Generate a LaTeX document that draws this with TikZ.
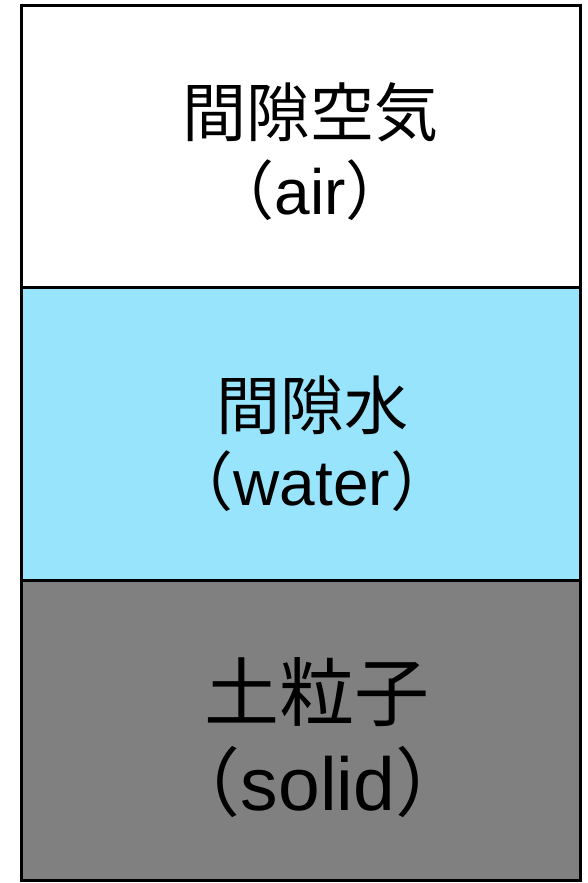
\documentclass[tikz,border=0pt]{standalone}
\usepackage{fontspec}
\setmainfont{Liberation Sans}
\newfontfamily\cjk{Noto Sans CJK JP}
\definecolor{waterblue}{HTML}{99E4FD}
\definecolor{soilgray}{HTML}{808080}
\begin{document}
\begin{tikzpicture}[x=1pt,y=-1pt,
  layer/.style={draw=black,line width=3pt},
  lbl/.style={inner sep=0pt,anchor=center,font=\fontsize{64}{64}\selectfont},
  biglbl/.style={inner sep=0pt,anchor=center,font=\fontsize{75}{75}\selectfont}]
\useasboundingbox (0,0) rectangle (588,883);
\fill[white] (0,0) rectangle (588,883);
\draw[layer,fill=white] (21,6) rectangle (580,287);
\draw[layer,fill=waterblue] (21,287) rectangle (580,580);
\draw[layer,fill=soilgray] (21,580) rectangle (580,880);
\node[lbl] (a1) at (310,112) {\cjk 間隙空気};
\node[lbl] (a2) at (310,190) {{\cjk （}air{\cjk ）}};
\node[lbl] (w1) at (312,405) {\cjk 間隙水};
\node[lbl] (w2) at (312,481) {{\cjk （}water{\cjk ）}};
\node[biglbl] (s1) at (317,692) {\cjk 土粒子};
\node[biglbl] (s2) at (318,782) {{\cjk （}solid{\cjk ）}};
\end{tikzpicture}
\end{document}
